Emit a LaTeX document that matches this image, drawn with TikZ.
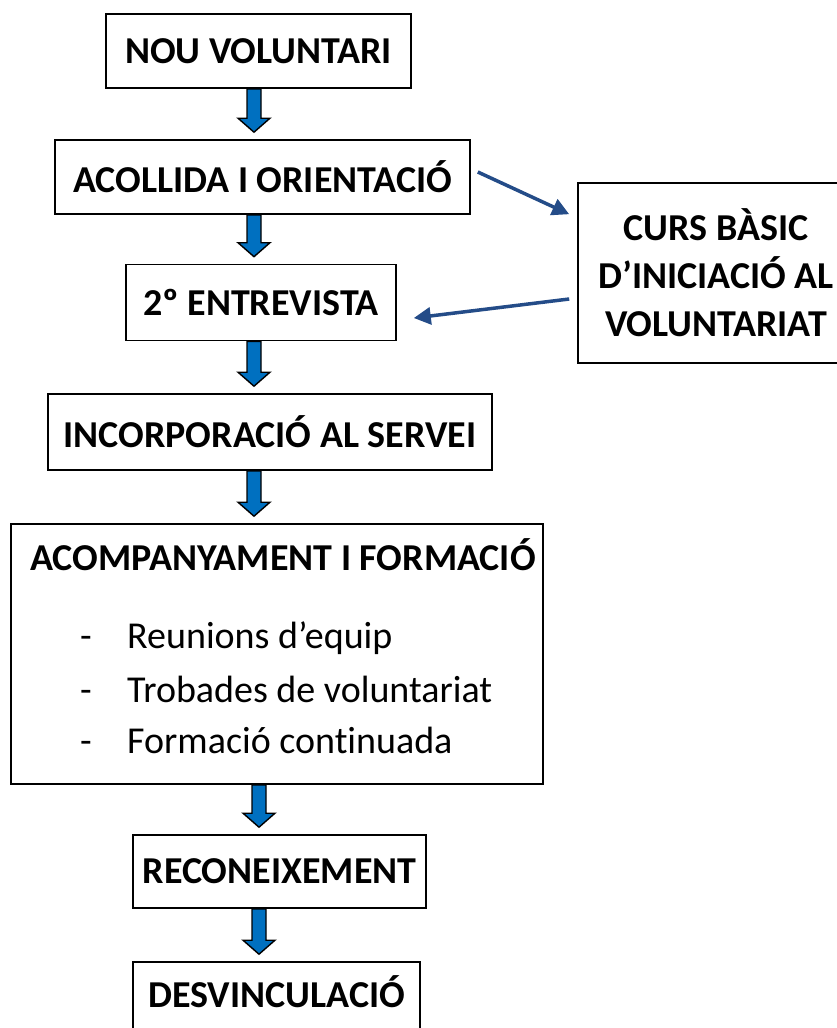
\documentclass[tikz,border=0pt]{standalone}
\usepackage{fontspec}
\setmainfont{Carlito}[Ligatures={NoCommon}]
\usepackage{xcolor}
\usetikzlibrary{arrows.meta, calc}

\definecolor{blaubloc}{RGB}{0,112,192}
\definecolor{blaufosc}{RGB}{36,76,136}

\newcommand{\fletxabloc}[3]{%
  \draw[bloc] let \p1 = (#2.south), \p2 = (#3.north) in
    (#1pt-7pt,\y1) -- (#1pt+7pt,\y1) -- (#1pt+7pt,\y2+21pt) -- (#1pt+16pt,\y2+21pt)
    -- (#1pt,\y2+7pt) -- (#1pt-16pt,\y2+21pt) -- (#1pt-7pt,\y2+21pt) -- cycle;}

\begin{document}
\begin{tikzpicture}[x=1pt, y=-1pt,
    caixa/.style={draw, line width=1.6pt, inner sep=0pt, align=center,
      font=\bfseries\fontsize{38}{48}\selectfont},
    llista/.style={font=\fontsize{38}{46}\selectfont, inner sep=0pt},
    bloc/.style={fill=blaubloc, draw=black, line width=1.4pt, line join=miter},
    fina/.style={draw=blaufosc, line width=3.5pt, -{Triangle[length=17pt, width=17pt]}}]
    \useasboundingbox (0,0) rectangle (836,1028);

    \node[caixa, minimum width=305pt, minimum height=74pt] (nou) at (258.5,51) {NOU VOLUNTARI};
    \node[caixa, minimum width=415pt, minimum height=74pt] (acollida) at (262.5,177) {ACOLLIDA I ORIENTACIÓ};
    \node[caixa, minimum width=270pt, minimum height=76pt] (entrevista) at (261,302.5) {2º ENTREVISTA};
    \node[caixa, minimum width=444pt, minimum height=76pt] (incorporacio) at (270,432) {INCORPORACIÓ AL SERVEI};
    \node[caixa, minimum width=532pt, minimum height=260pt] (acompanyament) at (277,654) {};
    \node[caixa, minimum width=293pt, minimum height=73pt] (reconeixement) at (279.5,871.5) {RECONEIXEMENT};
    \node[caixa, minimum width=287pt, minimum height=76pt, text depth=16pt] (desvinculacio) at (276.5,1000) {DESVINCULACIÓ};
    \node[caixa, minimum width=276pt, minimum height=180pt] (curs) at (716,273)
        {CURS BÀSIC\\D’INICIACIÓ AL\\VOLUNTARIAT};

    % contingut del bloc d'acompanyament
    \node[llista, font=\bfseries\fontsize{38}{46}\selectfont, anchor=base] (titol) at (283,570) {ACOMPANYAMENT I FORMACIÓ};
    \node[llista, anchor=base west] (guio1) at (80,648) {-};
    \node[llista, anchor=base west] (reunions) at (127,648) {Reunions d’equip};
    \node[llista, anchor=base west] (guio2) at (80,702) {-};
    \node[llista, anchor=base west] (trobades) at (127,702) {Trobades de voluntariat};
    \node[llista, anchor=base west] (guio3) at (80,753) {-};
    \node[llista, anchor=base west] (formacio) at (127,753) {Formació continuada};

    \fletxabloc{254}{nou}{acollida}
    \fletxabloc{254}{acollida}{entrevista}
    \fletxabloc{254}{entrevista}{incorporacio}
    \fletxabloc{254}{incorporacio}{acompanyament}
    \fletxabloc{259}{acompanyament}{reconeixement}
    \fletxabloc{259}{reconeixement}{desvinculacio}

    \draw[fina] ([xshift=7pt, yshift=5pt]acollida.east) -- ([xshift=-8pt, yshift=-32pt]curs.north west);
    \draw[fina] ([xshift=-8pt, yshift=-26pt]curs.west) -- ([xshift=17pt, yshift=-15.5pt]entrevista.east);
\end{tikzpicture}
\end{document}
